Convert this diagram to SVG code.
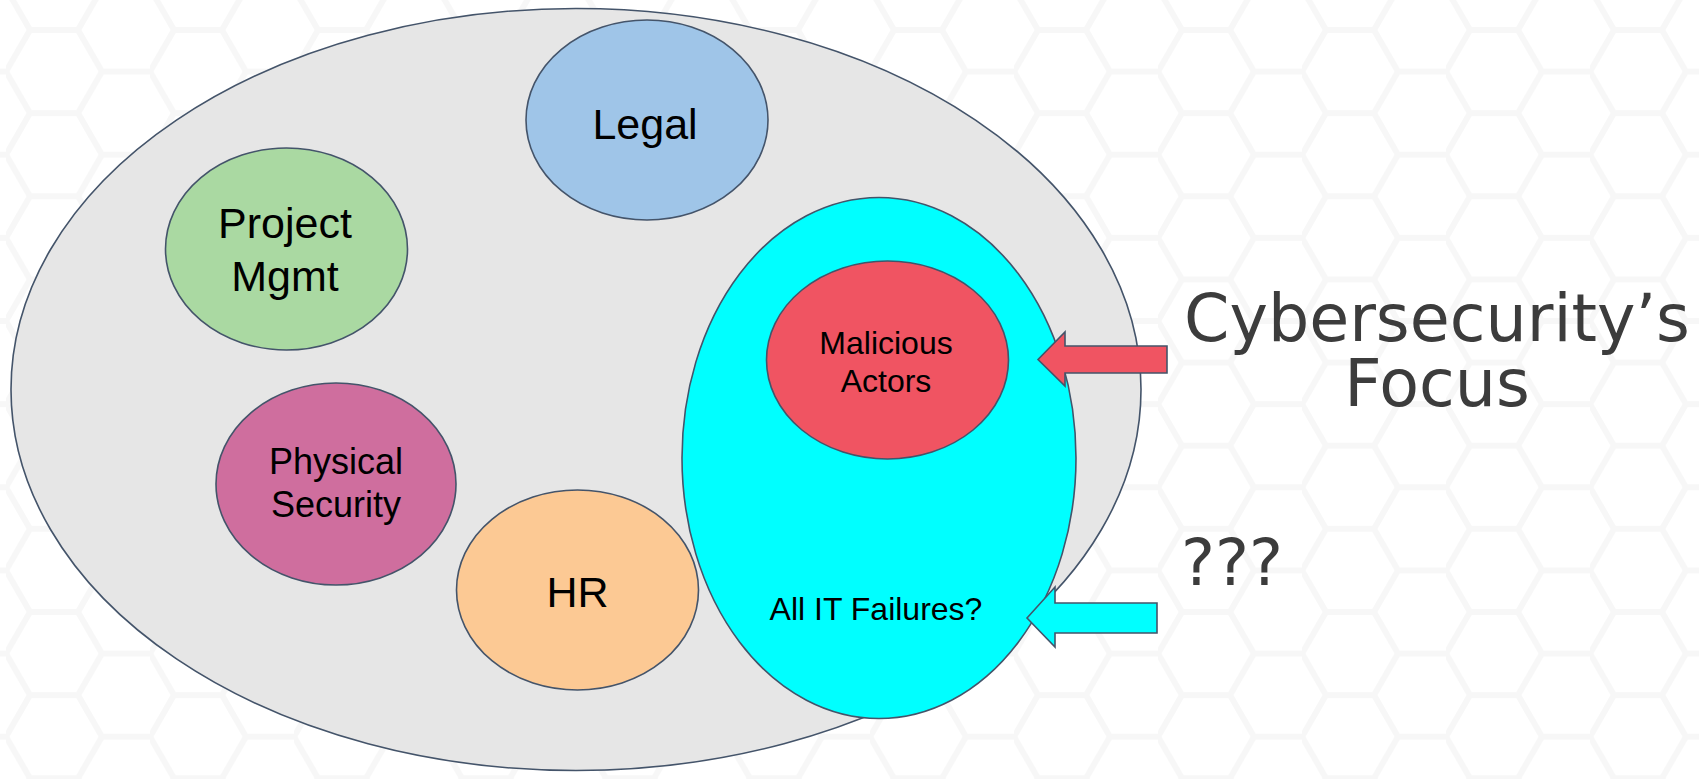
<svg xmlns="http://www.w3.org/2000/svg" width="1699" height="779" viewBox="0 0 1699 779">
  <style>
    .shape { stroke: #44546a; stroke-width: 1.6; }
    .lbl { font-family: "Liberation Sans", Arial, sans-serif; fill: #000; text-anchor: middle; }
    .big { font-size: 43px; }
    .mid { font-size: 36px; }
    .sm { font-size: 32px; }
    .title { font-family: "DejaVu Sans", Verdana, sans-serif; fill: #3c3c3c; }
  </style>
  <defs>
    <pattern id="hex" patternUnits="userSpaceOnUse" x="6" y="30" width="144" height="83.14">
      <path d="M0 41.57 L24 0 L72 0 L96 41.57 L144 41.57 M0 41.57 L24 83.14 L72 83.14 L96 41.57" fill="none" stroke="#f7f7f7" stroke-width="6"/>
    </pattern>
  </defs>
  <rect x="0" y="0" width="1699" height="779" fill="#ffffff"/>
  <rect x="0" y="0" width="1699" height="779" fill="url(#hex)"/>

  <g id="organization">
    <ellipse class="shape" cx="576" cy="389.5" rx="565" ry="381" fill="#e6e6e6"/>
  </g>
  <g id="legal">
    <ellipse class="shape" cx="647" cy="120" rx="121" ry="100" fill="#9fc5e8"/>
    <text class="lbl big" x="645" y="139">Legal</text>
  </g>
  <g id="project-mgmt">
    <ellipse class="shape" cx="286.5" cy="249" rx="121" ry="101" fill="#aad9a2"/>
    <text class="lbl big" x="285" y="238">Project</text>
    <text class="lbl big" x="285" y="291">Mgmt</text>
  </g>
  <g id="physical-security">
    <ellipse class="shape" cx="336" cy="484" rx="120" ry="101" fill="#cf6e9e"/>
    <text class="lbl mid" x="336" y="474">Physical</text>
    <text class="lbl mid" x="336" y="517">Security</text>
  </g>
  <g id="hr">
    <ellipse class="shape" cx="577.5" cy="590" rx="121" ry="100" fill="#fcc994"/>
    <text class="lbl big" x="577.5" y="607">HR</text>
  </g>
  <g id="all-it-failures">
    <ellipse class="shape" cx="879" cy="458" rx="197" ry="260.5" fill="#00ffff"/>
    <text class="lbl sm" x="876" y="620">All IT Failures?</text>
  </g>
  <g id="malicious-actors">
    <ellipse class="shape" cx="887.5" cy="360" rx="121" ry="99" fill="#f05462"/>
    <text class="lbl sm" x="886" y="354">Malicious</text>
    <text class="lbl sm" x="886" y="392">Actors</text>
  </g>

  <g id="connectors">
    <polygon class="shape" points="1038,359.5 1065,332 1065,346 1167,346 1167,373 1065,373 1065,386" fill="#f05462"/>
    <polygon class="shape" points="1027,618 1055,587 1055,603 1157,603 1157,633 1055,633 1055,647" fill="#00ffff"/>
  </g>

  <g id="labels">
    <text class="title" x="1437" y="341" font-size="65" text-anchor="middle">Cybersecurity’s</text>
    <text class="title" x="1437" y="406" font-size="65" text-anchor="middle">Focus</text>
    <text class="title" x="1181" y="585" font-size="64">???</text>
  </g>
</svg>
